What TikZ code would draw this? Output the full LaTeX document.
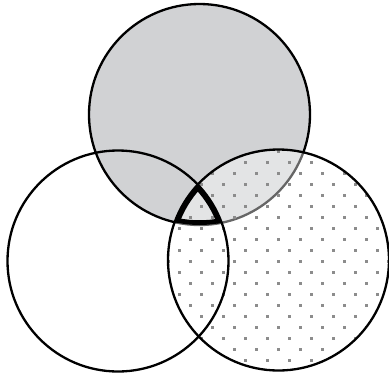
\documentclass[tikz,border=0pt]{standalone}
\usepackage{tikz}
\definecolor{topfill}{RGB}{209,210,212}
\definecolor{dotgray}{RGB}{140,140,140}

\begin{document}
\begin{tikzpicture}[
    x=1pt, y=-1pt,
    ring/.style={draw=black, line width=2.3pt},
    dot/.style={fill=dotgray},
    haze/.style={fill=white, fill opacity=0.4},
]
    \useasboundingbox (0,0) rectangle (389,376);

    % Centres
    \coordinate (top) at (199.5,114.5);
    \coordinate (left) at (118,261);
    \coordinate (right) at (278.5,260);
    \def\rad{110.5}

    % Top circle, shaded
    \fill[topfill] (top) circle (\rad);
    \draw[ring] (top) circle (\rad);

    % Right circle, lightened and dotted
    \fill[haze] (right) circle (\rad);
    \begin{scope}
        \clip (right) circle (\rad);
        \foreach \m in {-2,...,10} {
            \foreach \k in {-6,...,6} {
                \fill[dot] (278.3+22*\k-1.3,173.3+22*\m-1.3) rectangle ++(2.6,2.6);
                \fill[dot] (289.3+22*\k-1.3,162.3+22*\m-1.3) rectangle ++(2.6,2.6);
            }
        }
    \end{scope}

    % Outlines
    \draw[ring] (right) circle (\rad);
    \draw[ring] (left) circle (\rad);

    % Common region, heavy outline
    \begin{scope}
        \clip (top) circle (\rad);
        \clip (left) circle (\rad);
        \clip (right) circle (\rad);
        \draw[line width=9.5pt] (top) circle (\rad);
        \draw[line width=9.5pt] (left) circle (\rad);
        \draw[line width=9.5pt] (right) circle (\rad);
    \end{scope}
\end{tikzpicture}
\end{document}
